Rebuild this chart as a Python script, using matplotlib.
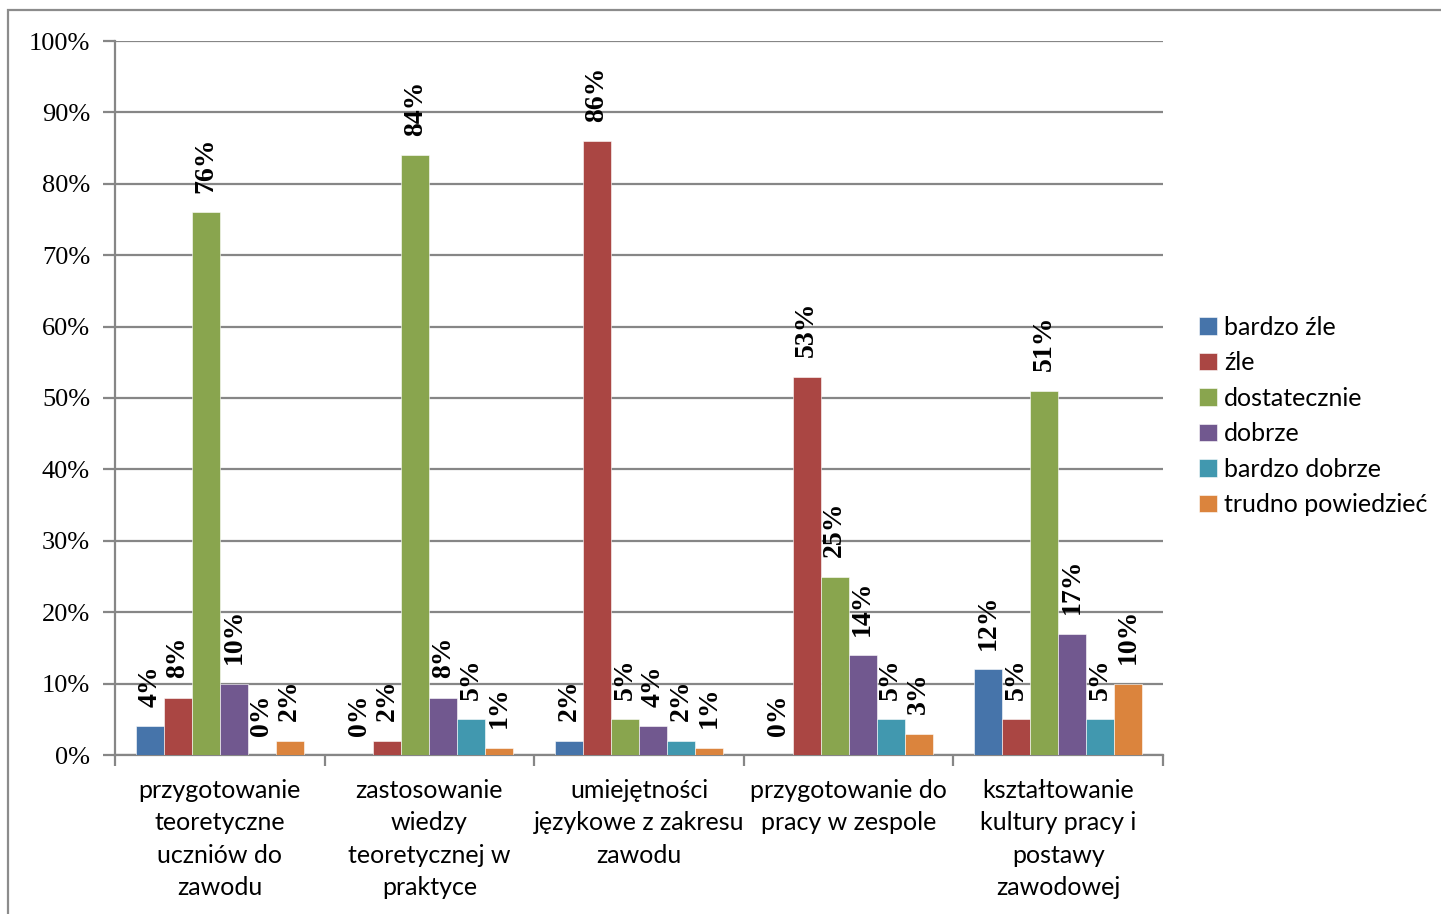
import matplotlib
matplotlib.use("Agg")
import matplotlib.pyplot as plt
from matplotlib.patches import Rectangle
from matplotlib.ticker import FixedLocator, PercentFormatter
import numpy as np

categories = [
    "przygotowanie\nteoretyczne\nuczniów do\nzawodu",
    "zastosowanie\nwiedzy\nteoretycznej w\npraktyce",
    "umiejętności\njęzykowe z zakresu\nzawodu",
    "przygotowanie do\npracy w zespole",
    "kształtowanie\nkultury pracy i\npostawy\nzawodowej",
]
series_names = ["bardzo źle", "źle", "dostatecznie", "dobrze", "bardzo dobrze", "trudno powiedzieć"]
bardzo_zle = [4, 0, 2, 0, 12]
zle = [8, 2, 86, 53, 5]
dostatecznie = [76, 84, 5, 25, 51]
dobrze = [10, 8, 4, 14, 17]
bardzo_dobrze = [0, 5, 2, 5, 5]
trudno = [2, 1, 1, 3, 10]
series_values = [bardzo_zle, zle, dostatecznie, dobrze, bardzo_dobrze, trudno]
colors = ["#4674AA", "#AA4643", "#89A54E", "#71588F", "#4198AF", "#DB843D"]
y_ticks = list(range(0, 101, 10))

fig = plt.figure(figsize=(14.41, 9.14), dpi=100)
fig.patch.set_facecolor("white")

# outer chart frame
fig.patches.append(Rectangle((8 / 1441, -0.05), 1.1, 1 - 10 / 914 + 0.05,
                             transform=fig.transFigure, fill=False,
                             edgecolor="#8c8c8c", linewidth=1.6))

ax = fig.add_axes([115 / 1441, 1 - 755 / 914, (1163 - 115) / 1441, (755 - 41) / 914])

grid_color = "#868686"
n_series = len(series_values)
width = 0.1336
x = np.arange(len(categories))
for j, (name, vals, col) in enumerate(zip(series_names, series_values, colors)):
    pos = x + (j - (n_series - 1) / 2) * width
    ax.bar(pos, vals, width=width, color=col, label=name, zorder=3,
           edgecolor="white", linewidth=0.4)
    for px, v in zip(pos, vals):
        ax.annotate(f"{v}%", xy=(px, v), xytext=(0, 14), textcoords="offset points",
                    rotation=90, ha="center", va="bottom",
                    fontfamily="Liberation Serif", fontweight="bold", fontsize=20,
                    color="black", zorder=4)

ax.set_xlim(-0.5, len(categories) - 0.5)
ax.set_ylim(0, 100)

ax.yaxis.set_major_locator(FixedLocator(y_ticks))
ax.yaxis.set_major_formatter(PercentFormatter(decimals=0))
ax.yaxis.grid(True, color=grid_color, linewidth=1.6, zorder=0)
ax.set_axisbelow(True)

ax.set_xticks(np.arange(-0.5, len(categories), 1.0))
ax.set_xticklabels([])
ax.set_xticks(x, minor=True)
ax.set_xticklabels(categories, minor=True, fontfamily="Lato", fontsize=18,
                   linespacing=1.5, va="top")
ax.tick_params(axis="x", which="major", length=8, width=1.6, color=grid_color, direction="out")
ax.tick_params(axis="x", which="minor", length=0, pad=17)
ax.tick_params(axis="y", length=9, width=1.6, color=grid_color, pad=9,
               labelsize=19)
for lbl in ax.get_yticklabels():
    lbl.set_fontfamily("Liberation Serif")

for side in ["top", "right"]:
    ax.spines[side].set_visible(False)
for side in ["left", "bottom"]:
    ax.spines[side].set_color(grid_color)
    ax.spines[side].set_linewidth(1.6)

leg = fig.legend(loc="center left", bbox_to_anchor=(1199 / 1441, 1 - 416 / 914),
                 frameon=False, prop={"family": "Lato", "size": 18},
                 handlelength=0.7, handleheight=0.7, handletextpad=0.3,
                 labelspacing=0.5, borderaxespad=0, borderpad=0)

fig.savefig("out.png", dpi=100, facecolor="white")
